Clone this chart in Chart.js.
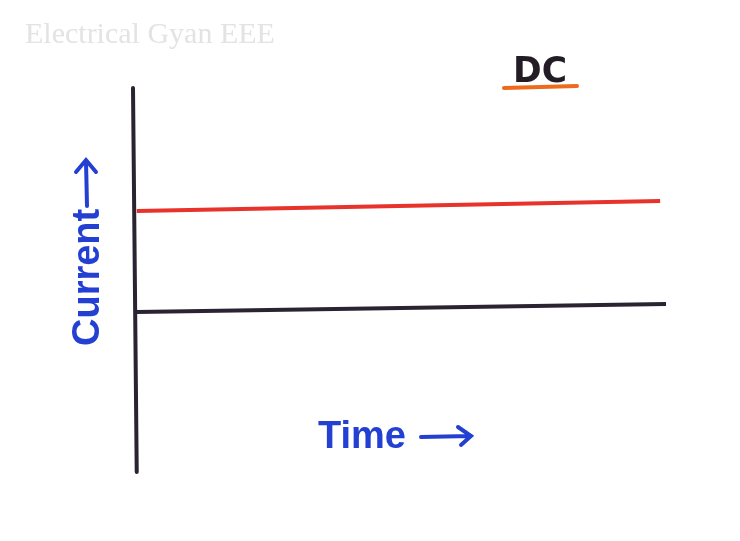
<!DOCTYPE html>
<html>
<head>
<meta charset="utf-8">
<script src="https://cdn.jsdelivr.net/npm/chart.js@4.4.1/dist/chart.umd.min.js"></script>
<style>
  html, body { margin: 0; padding: 0; background: #ffffff; }
  #wrap { width: 740px; height: 541px; }
</style>
</head>
<body>
<div id="wrap"><canvas id="dcChart" width="740" height="541"></canvas></div>
<script>
// values (time in arbitrary units, current with the zero line at 0)
var dcTime = [0.07, 9.89];
var dcCurrent = [1.01, 1.11];
var zeroTime = [0.07, 10];
var zeroCurrent = [0, 0.08];
var axisTime = [0, 0.07];
var axisCurrent = [2.24, -1.6];

var titleText = "DC";
var xLabel = "Time";
var yLabel = "Current";
var watermark = "Electrical Gyan EEE";

function toPoints(xs, ys) {
    var pts = [];
    for (let i = 0; i < xs.length; i++) {
        pts.push({ x: xs[i], y: ys[i] });
    }
    return pts;
}

//Text and arrows drawn on top of the chart
var sketchText = {
    id: 'sketchText',
    afterDraw: function(chart) {
        const ctx = chart.ctx;
        ctx.save();

        // faint watermark
        ctx.fillStyle = '#e3e3e3';
        ctx.font = '30px "Liberation Serif", serif';
        ctx.textBaseline = 'alphabetic';
        ctx.fillText(watermark, 25, 43, 252);

        // title with orange underline
        ctx.fillStyle = '#231c26';
        ctx.font = 'bold 36px "DejaVu Sans", sans-serif';
        ctx.fillText(titleText, 513, 82, 54);
        ctx.strokeStyle = '#ee6a1c';
        ctx.lineWidth = 4;
        ctx.lineCap = 'round';
        ctx.beginPath();
        ctx.moveTo(504, 88);
        ctx.lineTo(577, 86);
        ctx.stroke();

        // x label
        ctx.fillStyle = '#2440d2';
        ctx.strokeStyle = '#2440d2';
        ctx.font = 'bold 38px "Liberation Sans", sans-serif';
        ctx.fillText(xLabel, 318, 448, 92);
        ctx.lineWidth = 4;
        ctx.beginPath();
        ctx.moveTo(421, 437);
        ctx.lineTo(470, 436);
        ctx.moveTo(458, 427);
        ctx.lineTo(471, 436);
        ctx.lineTo(461, 445);
        ctx.stroke();

        // y label, rotated
        ctx.translate(99, 346);
        ctx.rotate(-Math.PI / 2);
        ctx.fillText(yLabel, 0, 0, 138);
        ctx.beginPath();
        ctx.moveTo(140, -12);
        ctx.lineTo(185, -13);
        ctx.moveTo(174, -23);
        ctx.lineTo(186, -13);
        ctx.lineTo(174, -3);
        ctx.stroke();

        ctx.restore();
    }
};

const ctx = document.getElementById('dcChart').getContext('2d');
new Chart(ctx, {
    type: 'line',
    data: {
        datasets: [
            {
                label: 'DC current',
                data: toPoints(dcTime, dcCurrent),
                borderColor: '#e8322c',
                borderWidth: 4,
                pointRadius: 0,
                clip: false
            },
            {
                label: 'Zero',
                data: toPoints(zeroTime, zeroCurrent),
                borderColor: '#2a2331',
                borderWidth: 4,
                pointRadius: 0,
                clip: false
            },
            {
                label: 'Current axis',
                data: toPoints(axisTime, axisCurrent),
                borderColor: '#2a2331',
                borderWidth: 4,
                borderCapStyle: 'round',
                pointRadius: 0,
                clip: false
            }
        ]
    },
    options: {
        responsive: false,
        animation: false,
        layout: {
            padding: { left: 133, right: 74, top: 88, bottom: 69 }
        },
        scales: {
            x: { type: 'linear', min: 0, max: 10, display: false },
            y: { type: 'linear', min: -1.6, max: 2.24, display: false }
        },
        plugins: {
            legend: { display: false },
            tooltip: { enabled: false }
        }
    },
    plugins: [sketchText]
});
</script>
</body>
</html>
